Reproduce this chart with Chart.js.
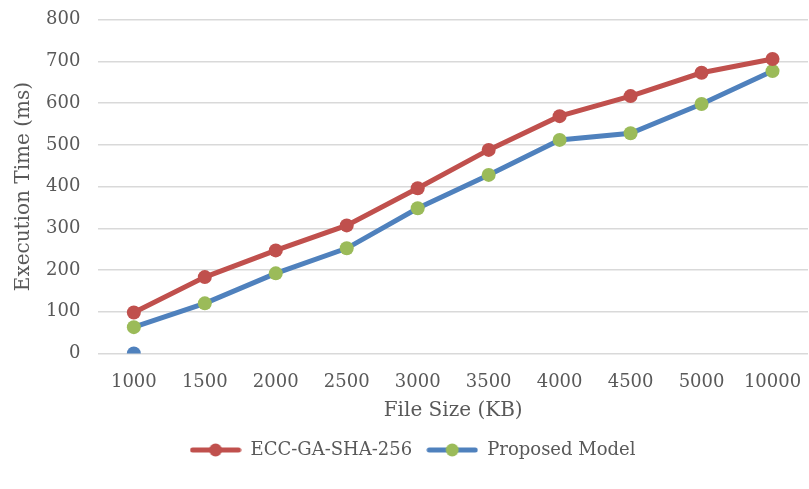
<!DOCTYPE html>
<html>
<head>
<meta charset="utf-8">
<script src="https://cdn.jsdelivr.net/npm/chart.js@4"></script>
<style>
  html, body { margin: 0; padding: 0; background: #fff; overflow: hidden; }
  #wrap { position: relative; width: 809px; height: 489px; overflow: hidden; }
  #chart { position: absolute; left: 0; top: -9px; }
</style>
</head>
<body>
<div id="wrap"><canvas id="chart" width="815" height="498"></canvas></div>
<script>
const fileSizes = ['1000', '1500', '2000', '2500', '3000', '3500', '4000', '4500', '5000', '10000'];
const eccGaSha = [98, 183, 247, 307, 396, 488, 569, 617, 673, 706];
const proposedModel = [63, 120, 192, 252, 348, 428, 512, 528, 598, 677];
const strayPoint = [0, null, null, null, null, null, null, null, null, null];

const RED = '#c0504d';
const BLUE = '#4f81bd';
const GREEN = '#9bbb59';
const TEXT = '#595959';
const FONT = "'DejaVu Serif', serif";

// legend swatch: line with a marker in the middle
function swatch(lineColor, dotColor) {
  const c = document.createElement('canvas');
  c.width = 52; c.height = 16;
  const g = c.getContext('2d');
  g.strokeStyle = lineColor;
  g.lineWidth = 5;
  g.lineCap = 'round';
  g.beginPath(); g.moveTo(3, 8); g.lineTo(49, 8); g.stroke();
  g.fillStyle = dotColor;
  g.beginPath(); g.arc(26, 8, 6.5, 0, Math.PI * 2); g.fill();
  return c;
}

const ctx = document.getElementById('chart').getContext('2d');
new Chart(ctx, {
  type: 'line',
  data: {
    labels: fileSizes,
    datasets: [
      {
        label: 'ECC-GA-SHA-256',
        data: eccGaSha,
        borderColor: RED,
        backgroundColor: RED,
        borderWidth: 5,
        pointRadius: 7,
        pointHoverRadius: 7,
        pointBorderWidth: 0,
        tension: 0,
        legendIcon: swatch(RED, RED)
      },
      {
        label: 'Proposed Model',
        data: proposedModel,
        borderColor: BLUE,
        backgroundColor: GREEN,
        pointBackgroundColor: GREEN,
        borderWidth: 5,
        pointRadius: 7,
        pointHoverRadius: 7,
        pointBorderWidth: 0,
        tension: 0,
        legendIcon: swatch(BLUE, GREEN)
      },
      {
        label: '',
        data: strayPoint,
        borderColor: BLUE,
        backgroundColor: BLUE,
        pointBackgroundColor: BLUE,
        showLine: false,
        pointRadius: 7,
        pointBorderWidth: 0
      }
    ]
  },
  options: {
    responsive: false,
    animation: false,
    layout: { padding: { left: 12, right: 2, top: -5, bottom: 20 } },
    plugins: {
      tooltip: { enabled: false },
      legend: {
        position: 'bottom',
        labels: {
          color: TEXT,
          font: { family: FONT, size: 18 },
          usePointStyle: true,
          pointStyleWidth: 52,
          boxWidth: 52,
          boxHeight: 16,
          padding: 14,
          filter: item => item.text !== '',
          generateLabels: chart => chart.data.datasets.map((ds, i) => ({
            text: ds.label,
            pointStyle: ds.legendIcon,
            fillStyle: ds.borderColor,
            strokeStyle: ds.borderColor,
            lineWidth: 0,
            hidden: false,
            datasetIndex: i,
            fontColor: TEXT
          }))
        }
      }
    },
    scales: {
      x: {
        offset: true,
        grid: { display: false, offset: true },
        border: { display: false },
        ticks: { color: TEXT, font: { family: FONT, size: 18 }, padding: 10, maxRotation: 0 },
        title: { display: true, text: 'File Size (KB)', color: TEXT, font: { family: FONT, size: 20 }, padding: { top: -4 } }
      },
      y: {
        min: 0,
        max: 800,
        ticks: { stepSize: 100, color: TEXT, font: { family: FONT, size: 18 }, padding: 18 },
        grid: { color: '#d9d9d9', lineWidth: 1.5, drawTicks: false },
        border: { display: false },
        title: { display: true, text: 'Execution Time (ms)', color: TEXT, font: { family: FONT, size: 20 }, padding: { top: 0, bottom: -8 } }
      }
    }
  }
});
</script>
</body>
</html>
